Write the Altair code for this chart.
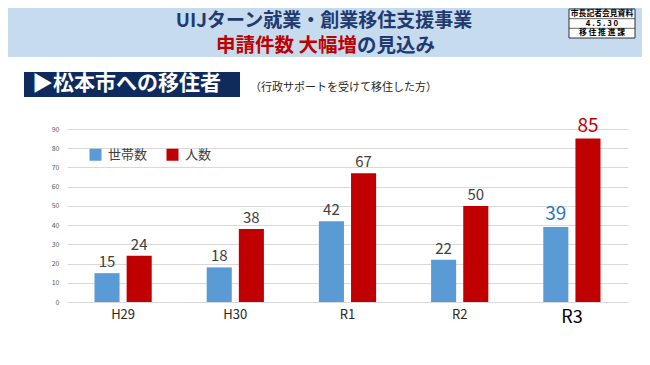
import altair as alt
import pandas as pd

# ---- data ----
years = ["H29", "H30", "R1", "R2", "R3"]
households = [15, 18, 42, 22, 39]
people = [24, 38, 67, 50, 85]
series_names = ["世帯数", "人数"]
y_ticks = [0, 10, 20, 30, 40, 50, 60, 70, 80, 90]

title_line1 = "UIJターン就業・創業移住支援事業"
title_line2_red = "申請件数 大幅増"
title_line2_navy = "の見込み"
section_title = "▶松本市への移住者"
section_note = "（行政サポートを受けて移住した方）"
stamp_rows = ["市長記者会見資料", "4 . 5 . 3 0", "移 住 推 進 課"]

rows = []
for i, yr in enumerate(years):
    rows.append({"year": yr, "series": series_names[0], "value": households[i]})
    rows.append({"year": yr, "series": series_names[1], "value": people[i]})
df = pd.DataFrame(rows)

FONT = "Noto Sans CJK JP"
BAR_COLORS = ["#5b9bd5", "#c00000"]
LABEL_COLORS = ["#2e75b6", "#c00000"]
NAVY = "#1f3a70"

W, H = 561, 173

x_axis = alt.Axis(
    title=None,
    labelAngle=0,
    ticks=False,
    domain=False,
    labelPadding=6,
    labelFont=FONT,
    labelFontSize=alt.condition("datum.value == 'R3'", alt.value(18), alt.value(13)),
    labelColor=alt.condition("datum.value == 'R3'", alt.value("#000000"), alt.value("#262626")),
)
x_scale = alt.Scale(paddingInner=0.49, paddingOuter=0.245)
xoff_scale = alt.Scale(paddingInner=0.22, paddingOuter=0)
y_axis = alt.Axis(
    title=None,
    values=y_ticks,
    tickCount=10,
    ticks=False,
    domain=False,
    labelOverlap=False,
    labelPadding=8,
    labelFont=FONT,
    labelFontSize=7,
    labelColor="#595959",
    gridColor="#d9d9d9",
    gridWidth=1,
)
y_scale = alt.Scale(domain=[0, 90], nice=False)


def x_enc():
    return alt.X("year:N", sort=years, scale=x_scale, axis=x_axis)


def xoff_enc():
    return alt.XOffset("series:N", sort=series_names, scale=xoff_scale)


def y_enc():
    return alt.Y("value:Q", scale=y_scale, axis=y_axis)


bars = alt.Chart(df).mark_bar().encode(
    x=x_enc(),
    xOffset=xoff_enc(),
    y=y_enc(),
    color=alt.Color(
        "series:N",
        sort=series_names,
        scale=alt.Scale(domain=series_names, range=BAR_COLORS),
        legend=alt.Legend(
            title=None,
            orient="none",
            legendX=22,
            legendY=19,
            direction="horizontal",
            symbolType="square",
            symbolSize=144,
            symbolStrokeWidth=0,
            symbolOpacity=1,
            labelFont=FONT,
            labelFontSize=13,
            labelColor="#404040",
            labelOffset=6,
            columnPadding=18,
            padding=0,
        ),
    ),
)

is_r3 = "datum.year == 'R3'"
labels = alt.Chart(df).mark_text(baseline="bottom", dy=-3, font=FONT).encode(
    x=x_enc(),
    xOffset=xoff_enc(),
    y=y_enc(),
    text=alt.Text("value:Q"),
    size=alt.condition(is_r3, alt.value(19), alt.value(15)),
    color=alt.condition(
        is_r3,
        alt.Color(
            "series:N",
            scale=alt.Scale(domain=series_names, range=LABEL_COLORS),
            legend=None,
        ),
        alt.value("#404040"),
    ),
)

one = pd.DataFrame({"k": [0]})

header_bg = alt.Chart(one).mark_rect(color="#c7dbef").encode(
    x=alt.value(-59), x2=alt.value(W + 14), y=alt.value(-121), y2=alt.value(-72)
)
header_line1 = alt.Chart(one).mark_text(
    text=title_line1, font=FONT, fontSize=19, fontWeight="bold", color=NAVY,
    align="center", baseline="middle",
).encode(x=alt.value(257), y=alt.value(-108))
header_line2a = alt.Chart(one).mark_text(
    text=title_line2_red, font=FONT, fontSize=19.5, fontWeight="bold", color="#c00000",
    align="right", baseline="middle",
).encode(x=alt.value(290), y=alt.value(-83))
header_line2b = alt.Chart(one).mark_text(
    text=title_line2_navy, font=FONT, fontSize=19.5, fontWeight="bold", color=NAVY,
    align="left", baseline="middle",
).encode(x=alt.value(290), y=alt.value(-83))

stamp_box = alt.Chart(one).mark_rect(
    fill="#ffffff", stroke="#000000", strokeWidth=0.8
).encode(x=alt.value(502), x2=alt.value(568), y=alt.value(-120), y2=alt.value(-91))
stamp_sep1 = alt.Chart(one).mark_rule(color="#000000", strokeWidth=0.6).encode(
    x=alt.value(502), x2=alt.value(568), y=alt.value(-110.3)
)
stamp_sep2 = alt.Chart(one).mark_rule(color="#000000", strokeWidth=0.6).encode(
    x=alt.value(502), x2=alt.value(568), y=alt.value(-100.7)
)
stamp_texts = [
    alt.Chart(one).mark_text(
        text=t, font=FONT, fontSize=7.8, fontWeight="bold", color="#000000",
        align="center", baseline="middle",
    ).encode(x=alt.value(535), y=alt.value(-115.2 + 9.7 * i))
    for i, t in enumerate(stamp_rows)
]

section_box = alt.Chart(one).mark_rect(color="#0f2a5c").encode(
    x=alt.value(-43), x2=alt.value(173), y=alt.value(-57), y2=alt.value(-32)
)
section_text = alt.Chart(one).mark_text(
    text=section_title, font=FONT, fontSize=21, fontWeight="bold", color="#ffffff",
    align="left", baseline="middle",
).encode(x=alt.value(-35), y=alt.value(-45))
note_text = alt.Chart(one).mark_text(
    text=section_note, font=FONT, fontSize=11, color="#262626",
    align="left", baseline="middle",
).encode(x=alt.value(183), y=alt.value(-41))

chart = alt.layer(
    header_bg, header_line1, header_line2a, header_line2b,
    stamp_box, stamp_sep1, stamp_sep2, *stamp_texts,
    section_box, section_text, note_text,
    bars, labels,
).resolve_scale(color="independent").properties(
    width=W,
    height=H,
    autosize=alt.AutoSizeParams(type="none"),
    padding={"left": 59, "top": 121, "right": 14, "bottom": 50},
    background="#ffffff",
).configure_view(stroke=None)

chart.save("out.html", embed_options={"renderer": "svg", "actions": False})
